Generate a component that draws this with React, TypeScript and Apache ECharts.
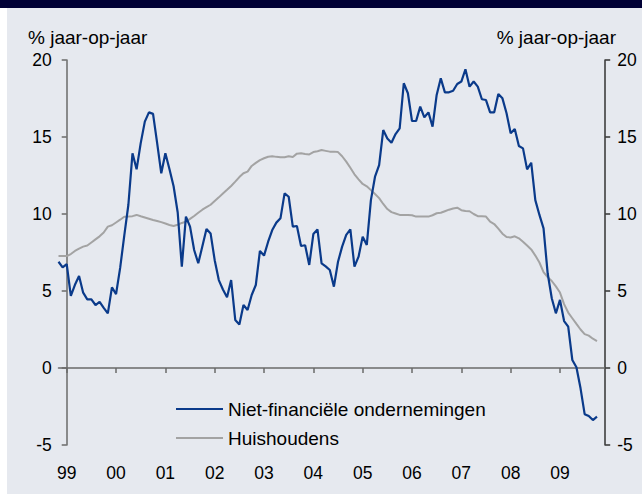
import React, { useEffect, useRef } from "react";
import * as echarts from "echarts";

// Months: Nov 1998 .. Dec 2009 (category axis)
const firstYear = 1998;
const firstMonth = 11;
const monthCount = 134;
const months: string[] = [];
for (let i = 0; i < monthCount; i++) {
  const t = firstMonth - 1 + i;
  const y = firstYear + Math.floor(t / 12);
  const m = (t % 12) + 1;
  months.push(`${y}-${String(m).padStart(2, "0")}`);
}

const yTicks = [-5, 0, 5, 10, 15, 20];
const unitLabel = "% jaar-op-jaar";
const seriesNames = ["Niet-financiële ondernemingen", "Huishoudens"];

// Niet-financiële ondernemingen (% jaar-op-jaar), monthly from Nov 1998
const nietFinancieel = [
  6.9, 6.54, 6.75, 4.68, 5.4, 5.97, 4.89, 4.46, 4.46, 4.09, 4.3, 3.9,
  3.55, 5.24, 4.8, 6.5, 8.6, 10.6, 13.94, 12.9, 14.6, 16.0, 16.6, 16.5,
  14.6, 12.64, 13.94, 12.9, 11.8, 10.1, 6.58, 9.83, 9.18, 7.66, 6.8, 7.9,
  9.03, 8.74, 7.0, 5.71, 5.1, 4.6, 5.71, 3.12, 2.83, 4.09, 3.77, 4.74,
  5.39, 7.6, 7.3, 8.2, 8.96, 9.44, 9.72, 11.34, 11.12, 9.18, 9.22, 7.92,
  7.97, 6.69, 8.7, 9.0, 6.8, 6.6, 6.36, 5.28, 6.9, 7.88, 8.64, 9.0,
  6.58, 7.23, 8.53, 7.99, 10.9, 12.42, 13.18, 15.45, 14.9, 14.63, 15.19, 15.56,
  18.49, 17.84, 16.04, 16.04, 16.97, 16.28, 16.6, 15.67, 17.73, 18.81, 17.9, 17.9,
  18.0, 18.44, 18.6, 19.4, 18.27, 18.6, 18.27, 17.45, 17.4, 16.6, 16.6, 17.79,
  17.51, 16.54, 15.24, 15.52, 14.42, 14.26, 12.9, 13.33, 10.9, 9.94, 9.07, 6.15,
  4.53, 3.55, 4.42, 3.05, 2.68, 0.52, 0.05, -1.32, -3.0, -3.12, -3.38, -3.16,
];

// Huishoudens (% jaar-op-jaar), monthly from Nov 1998
const huishoudens = [
  7.27, 7.27, 7.27, 7.4, 7.6, 7.75, 7.88, 7.95, 8.15, 8.35, 8.55, 8.8,
  9.18, 9.27, 9.45, 9.63, 9.82, 9.83, 9.86, 9.94, 9.85, 9.77, 9.69, 9.61,
  9.55, 9.47, 9.38, 9.29, 9.22, 9.3, 9.42, 9.5, 9.68, 9.87, 10.08, 10.28,
  10.44, 10.6, 10.84, 11.08, 11.33, 11.57, 11.82, 12.1, 12.4, 12.65, 12.75, 13.12,
  13.32, 13.5, 13.62, 13.72, 13.75, 13.71, 13.68, 13.68, 13.75, 13.7, 13.92, 13.94,
  13.9, 13.87, 14.02, 14.08, 14.15, 14.1, 14.05, 14.05, 14.02, 13.75, 13.4, 13.0,
  12.58, 12.25, 11.95, 11.8, 11.55, 11.3, 11.03, 10.65, 10.32, 10.12, 10.03, 9.94,
  9.94, 9.94, 9.92, 9.83, 9.83, 9.83, 9.83, 9.92, 10.05, 10.08, 10.18, 10.28,
  10.36, 10.41, 10.25, 10.19, 10.18, 10.0, 9.86, 9.85, 9.83, 9.5, 9.35, 9.05,
  8.72, 8.5, 8.48, 8.55, 8.42, 8.2, 7.95, 7.7, 7.3, 6.85, 6.23, 5.9,
  5.65, 5.3, 4.9, 4.15, 3.6, 3.23, 2.86, 2.5, 2.2, 2.1, 1.9, 1.75,
];

const FONT = "'Liberation Sans', Arial, sans-serif";
const isYearStart = (_i: number, v: string) => v.endsWith("-01");

export default function App() {
  const ref = useRef<HTMLDivElement>(null);
  useEffect(() => {
    if (!ref.current) return;
    const chart = echarts.init(ref.current, undefined, { renderer: "svg" });
    const gridLeft = 58.5;
    const gridRight = 642 - 605.2;
    chart.setOption({
      animation: false,
      backgroundColor: "#e6e9ef",
      textStyle: { fontFamily: FONT },
      graphic: [
        { type: "rect", shape: { x: 0, y: 0, width: 642, height: 8 }, style: { fill: "#000035" } },
        { type: "rect", shape: { x: 0, y: 8, width: 7, height: 486 }, style: { fill: "#ffffff" } },
        {
          type: "text",
          x: 28,
          y: 37,
          style: { text: unitLabel, fontSize: 19, fontFamily: FONT, fill: "#000", textAlign: "left", textVerticalAlign: "middle" },
        },
        {
          type: "text",
          x: 616,
          y: 37,
          style: { text: unitLabel, fontSize: 19, fontFamily: FONT, fill: "#000", textAlign: "right", textVerticalAlign: "middle" },
        },
      ],
      grid: { left: gridLeft, right: gridRight, top: 60, bottom: 494 - 445, containLabel: false },
      legend: {
        orient: "vertical",
        left: 171,
        top: 394.5,
        icon: "rect",
        itemWidth: 47,
        itemHeight: 2.2,
        itemGap: 10,
        data: seriesNames,
        textStyle: { fontSize: 19, fontFamily: FONT, color: "#000", lineHeight: 19 },
      },
      xAxis: [
        {
          type: "category",
          data: months,
          boundaryGap: false,
          position: "bottom",
          axisLine: { show: true, onZero: true, lineStyle: { color: "#6a6a6a", width: 1.5 } },
          axisTick: { show: true, interval: isYearStart, length: 5, lineStyle: { color: "#6a6a6a", width: 1.5 } },
          axisLabel: { show: false },
          splitLine: { show: false },
        },
        {
          type: "category",
          data: months,
          boundaryGap: false,
          position: "bottom",
          axisLine: { show: false, onZero: false },
          axisTick: { show: false },
          axisLabel: {
            show: true,
            interval: isYearStart,
            formatter: (v: string) => v.slice(2, 4),
            margin: 19,
            fontSize: 17.5,
            fontFamily: FONT,
            color: "#000",
          },
          splitLine: { show: false },
        },
      ],
      yAxis: [
        {
          type: "value",
          position: "left",
          offset: -8.2,
          min: yTicks[0],
          max: yTicks[yTicks.length - 1],
          interval: 5,
          axisLine: { show: true, lineStyle: { color: "#6a6a6a", width: 1.5 } },
          axisTick: { show: true, length: 5, lineStyle: { color: "#6a6a6a", width: 1.5 } },
          axisLabel: { margin: 15, fontSize: 17.5, fontFamily: FONT, color: "#000" },
          splitLine: { show: false },
        },
        {
          type: "value",
          position: "right",
          min: yTicks[0],
          max: yTicks[yTicks.length - 1],
          interval: 5,
          axisLine: { show: true, lineStyle: { color: "#333", width: 1.5 } },
          axisTick: { show: true, length: 5, lineStyle: { color: "#333", width: 1.5 } },
          axisLabel: { margin: 12, fontSize: 17.5, fontFamily: FONT, color: "#000" },
          splitLine: { show: false },
        },
      ],
      series: [
        {
          name: seriesNames[0],
          type: "line",
          xAxisIndex: 0,
          yAxisIndex: 0,
          data: nietFinancieel,
          symbol: "none",
          lineStyle: { color: "#0a3a8a", width: 2.2 },
          itemStyle: { color: "#0a3a8a" },
          z: 3,
        },
        {
          name: seriesNames[1],
          type: "line",
          xAxisIndex: 0,
          yAxisIndex: 0,
          data: huishoudens,
          symbol: "none",
          lineStyle: { color: "#a3a3a3", width: 2 },
          itemStyle: { color: "#a3a3a3" },
          z: 2,
        },
      ],
    });
    return () => chart.dispose();
  }, []);
  return <div ref={ref} style={{ position: "absolute", left: 0, top: 0, width: 642, height: 494 }} />;
}
